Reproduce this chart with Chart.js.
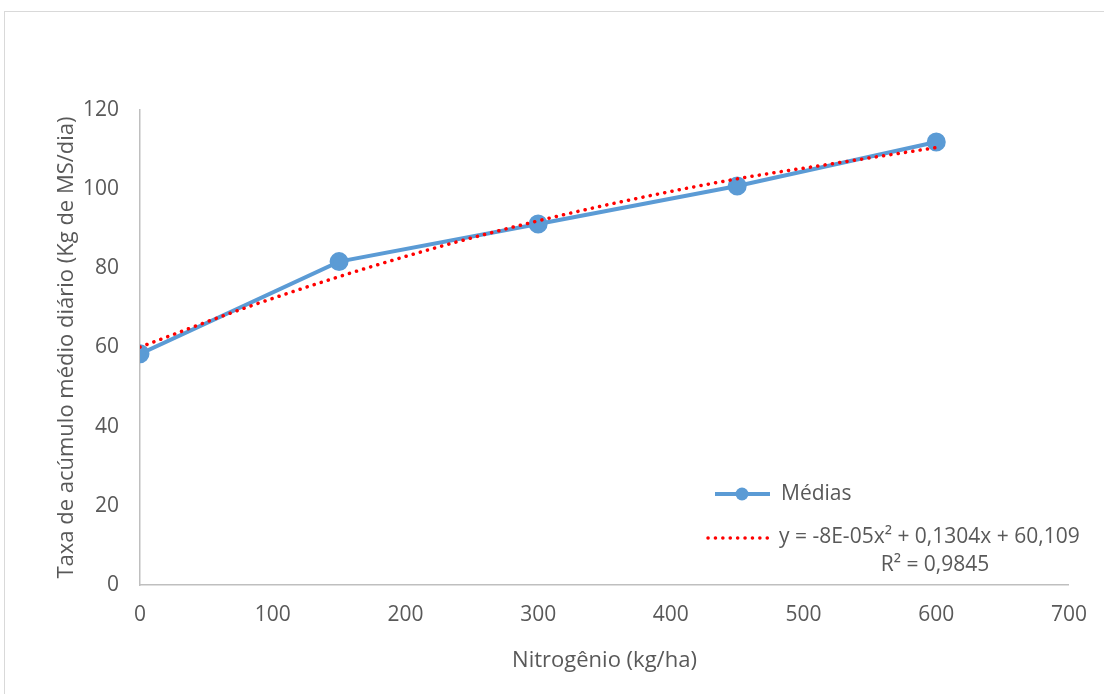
<!DOCTYPE html>
<html>
<head>
<meta charset="utf-8">
<script src="https://cdn.jsdelivr.net/npm/chart.js@4"></script>
<style>
  html, body { margin: 0; padding: 0; background: #fff; }
  #wrap { width: 1104px; height: 694px; position: relative; }
</style>
</head>
<body>
<div id="wrap"><canvas id="taxaChart" width="1104" height="694"></canvas></div>
<script>
// doses de nitrogênio (kg/ha) e médias observadas
var doses = [0, 150, 300, 450, 600];
var medias = [58.4, 81.7, 91.2, 100.8, 111.9];

// linha de tendência polinomial
var trendX = [0, 75, 150, 225, 300, 375, 450, 525, 600];
var trendY = [60.1, 69.5, 77.9, 85.4, 92.0, 97.7, 102.6, 106.6, 110.5];

var xTicks = [0, 100, 200, 300, 400, 500, 600, 700];
var yTicks = [0, 20, 40, 60, 80, 100, 120];

var legendMedias = "Médias";
var legendEq = "y = -8E-05x² + 0,1304x + 60,109";
var legendR2 = "R² = 0,9845";

var txtColor = "#595959";
var blue = "#5b9bd5";
var red = "#ff0000";

var pointsMedias = doses.map(function (d, i) { return { x: d, y: medias[i] }; });
var pointsTrend = trendX.map(function (d, i) { return { x: d, y: trendY[i] }; });

var frameAndLegend = {
    id: "frameAndLegend",
    beforeDraw: function (chart) {
        var c = chart.ctx;
        c.save();
        c.fillStyle = "#fff";
        c.fillRect(0, 0, chart.width, chart.height);
        c.strokeStyle = "#d9d9d9";
        c.lineWidth = 1;
        c.strokeRect(4.5, 11.5, 1120, 720);
        c.restore();
    },
    afterDraw: function (chart) {
        var c = chart.ctx;
        c.save();
        // Médias
        c.strokeStyle = blue;
        c.lineWidth = 4;
        c.beginPath();
        c.moveTo(715, 494);
        c.lineTo(770, 494);
        c.stroke();
        c.fillStyle = blue;
        c.beginPath();
        c.arc(742, 494, 6.5, 0, Math.PI * 2);
        c.fill();
        c.font = "21px 'Open Sans'";
        c.fillStyle = txtColor;
        c.textBaseline = "middle";
        c.textAlign = "left";
        c.fillText(legendMedias, 781, 494);
        // tendência
        c.strokeStyle = red;
        c.lineWidth = 3.5;
        c.lineCap = "round";
        c.setLineDash([0.1, 7.3]);
        c.beginPath();
        c.moveTo(708, 538);
        c.lineTo(772, 538);
        c.stroke();
        c.setLineDash([]);
        c.fillText(legendEq, 779, 537);
        c.textAlign = "center";
        c.fillText(legendR2, 935, 565);
        c.restore();
    }
};

new Chart(document.getElementById("taxaChart"), {
    type: "scatter",
    data: {
        datasets: [
            {
                label: legendEq,
                data: pointsTrend,
                showLine: true,
                borderColor: red,
                borderWidth: 3.5,
                borderCapStyle: "round",
                borderDash: [0.1, 7.3],
                cubicInterpolationMode: "monotone",
                pointRadius: 0,
                fill: false,
                order: 0
            },
            {
                label: legendMedias,
                data: pointsMedias,
                showLine: true,
                borderColor: blue,
                backgroundColor: blue,
                borderWidth: 4,
                pointRadius: 7.5,
                pointBackgroundColor: blue,
                pointBorderColor: blue,
                tension: 0,
                fill: false,
                order: 1
            }
        ]
    },
    options: {
        responsive: false,
        animation: false,
        events: [],
        layout: { padding: { left: 0, top: 110, right: 35, bottom: 0 } },
        plugins: {
            legend: { display: false },
            tooltip: { enabled: false }
        },
        scales: {
            x: {
                type: "linear",
                min: 0,
                max: 700,
                afterBuildTicks: function (s) { s.ticks = xTicks.map(function (v) { return { value: v }; }); },
                afterFit: function (s) { s.height = 109; },
                grid: { display: false, drawTicks: false },
                border: { display: true, color: "#bfbfbf", width: 1.5 },
                ticks: { color: txtColor, font: { family: "'Open Sans'", size: 21 }, padding: 17, maxRotation: 0 },
                title: {
                    display: true,
                    text: "Nitrogênio (kg/ha)",
                    color: txtColor,
                    font: { family: "'Open Sans'", size: 22 },
                    padding: { top: 0, bottom: 20 }
                }
            },
            y: {
                type: "linear",
                min: 0,
                max: 120,
                afterBuildTicks: function (s) { s.ticks = yTicks.map(function (v) { return { value: v }; }); },
                afterFit: function (s) { s.width = 140; },
                grid: { display: false, drawTicks: false },
                border: { display: true, color: "#bfbfbf", width: 1.5 },
                ticks: { color: txtColor, font: { family: "'Open Sans'", size: 21 }, padding: 21 },
                title: {
                    display: true,
                    text: "Taxa de acúmulo médio diário (Kg de MS/dia)",
                    color: txtColor,
                    font: { family: "'Open Sans'", size: 22 },
                    padding: { top: 54, bottom: 0 }
                }
            }
        }
    },
    plugins: [frameAndLegend]
});
</script>
</body>
</html>
